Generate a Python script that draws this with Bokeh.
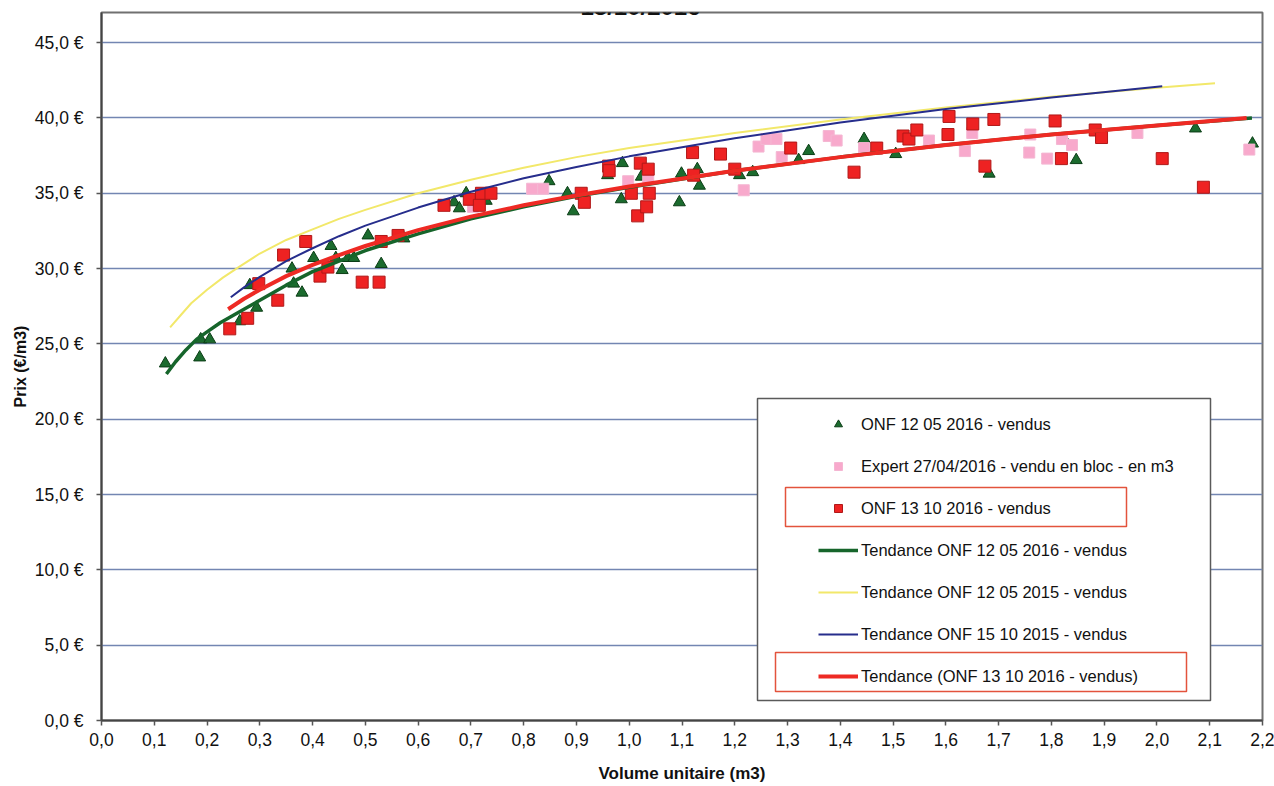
from bokeh.plotting import figure
from bokeh.models import (Range1d, FixedTicker, Legend, LegendItem, BoxAnnotation,
                          Label, CustomJSTickFormatter)
from bokeh.embed import file_html
from bokeh.resources import INLINE

# ---- data ----
# ONF 12 05 2016 - vendus (green triangles)
may16_x = [0.121, 0.186, 0.188, 0.205, 0.262, 0.281, 0.294, 0.361, 0.364, 0.380, 0.402, 0.435,
           0.444, 0.456, 0.467, 0.478, 0.505, 0.530, 0.573, 0.668, 0.678, 0.691, 0.729, 0.848,
           0.883, 0.894, 0.959, 0.985, 0.987, 1.023, 1.095, 1.099, 1.129, 1.133, 1.209, 1.234,
           1.321, 1.340, 1.445, 1.505, 1.682, 1.826, 1.847, 2.073, 2.181]
may16_y = [23.7, 24.1, 25.3, 25.3, 26.5, 28.9, 27.4, 30.0, 29.0, 28.4, 30.7, 31.5,
           30.7, 29.9, 30.7, 30.7, 32.2, 30.3, 32.0, 34.4, 34.0, 35.0, 34.5, 35.8,
           35.0, 33.8, 36.2, 34.6, 37.0, 36.1, 34.4, 36.3, 36.6, 35.5, 36.2, 36.4,
           37.2, 37.8, 38.6, 37.6, 36.3, 38.5, 37.2, 39.3, 38.3]

# Expert 27/04/2016 - vendu en bloc - en m3 (pink squares)
expert_x = [0.704, 0.816, 0.837, 0.998, 1.036, 1.217, 1.245, 1.260, 1.279, 1.289, 1.378, 1.393,
            1.445, 1.568, 1.636, 1.650, 1.758, 1.760, 1.792, 1.820, 1.839, 1.963, 2.175]
expert_y = [34.1, 35.3, 35.3, 35.8, 36.0, 35.2, 38.1, 38.6, 38.6, 37.4, 38.8, 38.5,
            38.0, 38.5, 37.8, 39.0, 37.7, 38.9, 37.3, 38.6, 38.2, 39.0, 37.9]

# ONF 13 10 2016 - vendus (red squares)
oct16_x = [0.243, 0.277, 0.298, 0.334, 0.345, 0.387, 0.414, 0.429, 0.494, 0.526, 0.530, 0.562,
           0.649, 0.697, 0.716, 0.720, 0.738, 0.909, 0.915, 0.961, 0.962, 1.004, 1.016, 1.021,
           1.033, 1.036, 1.038, 1.120, 1.122, 1.173, 1.200, 1.306, 1.426, 1.469, 1.519, 1.530,
           1.545, 1.604, 1.606, 1.651, 1.674, 1.691, 1.807, 1.819, 1.883, 1.895, 2.010, 2.088]
oct16_y = [26.0, 26.7, 29.0, 27.9, 30.9, 31.8, 29.5, 30.1, 29.1, 29.1, 31.8, 32.2,
           34.2, 34.6, 34.2, 35.0, 35.0, 35.0, 34.4, 36.8, 36.5, 35.0, 33.5, 37.0,
           34.1, 36.6, 35.0, 37.7, 36.2, 37.6, 36.6, 38.0, 36.4, 38.0, 38.8, 38.6,
           39.2, 38.9, 40.1, 39.6, 36.8, 39.9, 39.8, 37.3, 39.2, 38.7, 37.3, 35.4]

# trend curves
trend_may16_x = [0.123, 0.14, 0.16, 0.18, 0.2, 0.225, 0.25, 0.275, 0.3, 0.35, 0.4, 0.45, 0.5,
                 0.6, 0.7, 0.8, 0.9, 1.0, 1.2, 1.4, 1.6, 1.8, 2.0, 2.18]
trend_may16_y = [23.0, 23.8, 24.6, 25.3, 25.8, 26.4, 26.9, 27.4, 27.9, 28.9, 29.8, 30.5, 31.2,
                 32.3, 33.3, 34.1, 34.8, 35.4, 36.5, 37.4, 38.2, 38.9, 39.5, 40.0]
trend_may15_x = [0.13, 0.15, 0.17, 0.2, 0.23, 0.26, 0.3, 0.35, 0.4, 0.45, 0.5, 0.6, 0.7,
                 0.8, 0.9, 1.0, 1.2, 1.4, 1.6, 1.8, 2.0, 2.11]
trend_may15_y = [26.1, 26.9, 27.7, 28.6, 29.4, 30.1, 31.0, 31.9, 32.6, 33.3, 33.9, 35.0, 35.9,
                 36.7, 37.4, 38.0, 39.0, 39.9, 40.7, 41.4, 42.0, 42.3]
trend_oct15_x = [0.245, 0.27, 0.3, 0.35, 0.4, 0.45, 0.5, 0.6, 0.7, 0.8, 0.9, 1.0, 1.2, 1.4,
                 1.6, 1.8, 2.01]
trend_oct15_y = [28.1, 28.75, 29.45, 30.5, 31.35, 32.15, 32.85, 34.05, 35.1, 36.0, 36.75, 37.45,
                 38.65, 39.7, 40.6, 41.35, 42.1]
trend_oct16_x = [0.24, 0.27, 0.3, 0.35, 0.4, 0.45, 0.5, 0.6, 0.7, 0.8, 0.9, 1.0, 1.2, 1.4,
                 1.6, 1.8, 2.0, 2.17]
trend_oct16_y = [27.3, 28.0, 28.6, 29.5, 30.25, 30.9, 31.5, 32.55, 33.45, 34.2, 34.85, 35.45,
                 36.5, 37.4, 38.2, 38.9, 39.5, 40.0]

# ticks
x_ticks = [0.0, 0.1, 0.2, 0.3, 0.4, 0.5, 0.6, 0.7, 0.8, 0.9, 1.0, 1.1,
           1.2, 1.3, 1.4, 1.5, 1.6, 1.7, 1.8, 1.9, 2.0, 2.1, 2.2]
x_tick_labels = ["0,0", "0,1", "0,2", "0,3", "0,4", "0,5", "0,6", "0,7", "0,8", "0,9", "1,0", "1,1",
                 "1,2", "1,3", "1,4", "1,5", "1,6", "1,7", "1,8", "1,9", "2,0", "2,1", "2,2"]
y_ticks = [0, 5, 10, 15, 20, 25, 30, 35, 40, 45]
y_tick_labels = ["0,0 €", "5,0 €", "10,0 €", "15,0 €", "20,0 €", "25,0 €",
                 "30,0 €", "35,0 €", "40,0 €", "45,0 €"]

title_text = "13/10/2016"
x_title = "Volume unitaire (m3)"
y_title = "Prix (€/m3)"

FONT = "Liberation Sans"

p = figure(width=1274, height=786, x_range=Range1d(0, 2.2), y_range=Range1d(0, 47),
           output_backend="svg", toolbar_location=None,
           min_border_left=101, min_border_right=12, min_border_top=12, min_border_bottom=66,
           background_fill_color="white", border_fill_color="white")

p.outline_line_color = "#707070"
p.outline_line_width = 2

label_js = """
const i = tick_vals.findIndex(t => Math.abs(t - tick) < 1e-9);
return i >= 0 ? tick_texts[i] : '';
"""

p.xaxis.ticker = FixedTicker(ticks=x_ticks)
p.xaxis.formatter = CustomJSTickFormatter(args=dict(tick_vals=x_ticks, tick_texts=x_tick_labels), code=label_js)
p.yaxis.ticker = FixedTicker(ticks=y_ticks)
p.yaxis.formatter = CustomJSTickFormatter(args=dict(tick_vals=y_ticks, tick_texts=y_tick_labels), code=label_js)

for ax in (p.xaxis, p.yaxis):
    ax.axis_line_color = "#444444"
    ax.axis_line_width = 2
    ax.major_tick_line_color = "#555555"
    ax.major_tick_line_width = 1.5
    ax.major_tick_out = 5
    ax.major_tick_in = 0
    ax.minor_tick_line_color = None
    ax.major_label_text_font = FONT
    ax.major_label_text_font_size = "17.5px"
    ax.major_label_text_color = "#111111"
    ax.axis_label_text_font = FONT
    ax.axis_label_text_font_style = "bold"
    ax.axis_label_text_color = "#111111"

p.xaxis.major_label_standoff = 7
p.yaxis.major_label_standoff = 13
p.xaxis.axis_label = x_title
p.xaxis.axis_label_text_font_size = "17px"
p.xaxis.axis_label_standoff = 15
p.yaxis.axis_label = y_title
p.yaxis.axis_label_text_font_size = "16px"
p.yaxis.axis_label_standoff = 3

p.xgrid.visible = False
p.ygrid.grid_line_color = "#7386b2"
p.ygrid.grid_line_width = 1.5

# scatter series
r_may16 = p.scatter(may16_x, may16_y, marker="triangle", size=12,
                    fill_color="#1b6b2e", line_color="#0b3d16", line_width=1)
r_exp = p.scatter(expert_x, expert_y, marker="square", size=11,
                  fill_color="#f8a9cc", line_color="#f4b6d2", line_width=1)
r_oct16 = p.scatter(oct16_x, oct16_y, marker="square", size=12,
                    fill_color="#ee2222", line_color="#b01818", line_width=1)

# trend lines
l_may16 = p.line(trend_may16_x, trend_may16_y, line_color="#16652b", line_width=3.5)
l_may15 = p.line(trend_may15_x, trend_may15_y, line_color="#f2e86a", line_width=2)
l_oct15 = p.line(trend_oct15_x, trend_oct15_y, line_color="#262d8c", line_width=2)
l_oct16 = p.line(trend_oct16_x, trend_oct16_y, line_color="#ee2a24", line_width=4)

# legend frame and highlight boxes
legend_box = BoxAnnotation(left=656, right=1109, bottom=20, top=322,
                           left_units="screen", right_units="screen",
                           bottom_units="screen", top_units="screen",
                           fill_color="white", fill_alpha=1.0,
                           line_color="#5a5a5a", line_alpha=1.0, line_width=1.5)
p.add_layout(legend_box)
hl1 = BoxAnnotation(left=684, right=1025, bottom=194, top=233,
                    left_units="screen", right_units="screen",
                    bottom_units="screen", top_units="screen",
                    fill_alpha=0.0, line_color="#e3533c", line_alpha=1.0, line_width=1.5)
hl2 = BoxAnnotation(left=674, right=1085, bottom=29, top=68,
                    left_units="screen", right_units="screen",
                    bottom_units="screen", top_units="screen",
                    fill_alpha=0.0, line_color="#e3533c", line_alpha=1.0, line_width=1.5)
p.add_layout(hl1)
p.add_layout(hl2)

legend = Legend(items=[
    LegendItem(label="ONF 12 05 2016 - vendus", renderers=[r_may16]),
    LegendItem(label="Expert 27/04/2016 - vendu en bloc - en m3", renderers=[r_exp]),
    LegendItem(label="ONF 13 10 2016 - vendus", renderers=[r_oct16]),
    LegendItem(label="Tendance ONF 12 05 2016 - vendus", renderers=[l_may16]),
    LegendItem(label="Tendance ONF 12 05 2015 - vendus", renderers=[l_may15]),
    LegendItem(label="Tendance ONF 15 10 2015 - vendus", renderers=[l_oct15]),
    LegendItem(label="Tendance (ONF 13 10 2016 - vendus)", renderers=[l_oct16]),
], location=(717, 34), padding=0, margin=0, spacing=22, label_height=20,
   glyph_height=20, glyph_width=40, label_standoff=3,
   border_line_alpha=0, background_fill_alpha=0,
   label_text_font=FONT, label_text_font_size="16.5px", label_text_color="#111111")
p.add_layout(legend, "center")

title = Label(x=539, y=714, x_units="screen", y_units="screen", text=title_text,
              text_font=FONT, text_font_style="bold", text_font_size="24px",
              text_align="center", text_baseline="alphabetic", text_color="#111111")
p.add_layout(title)

open("out.html", "w").write(file_html(p, INLINE))
